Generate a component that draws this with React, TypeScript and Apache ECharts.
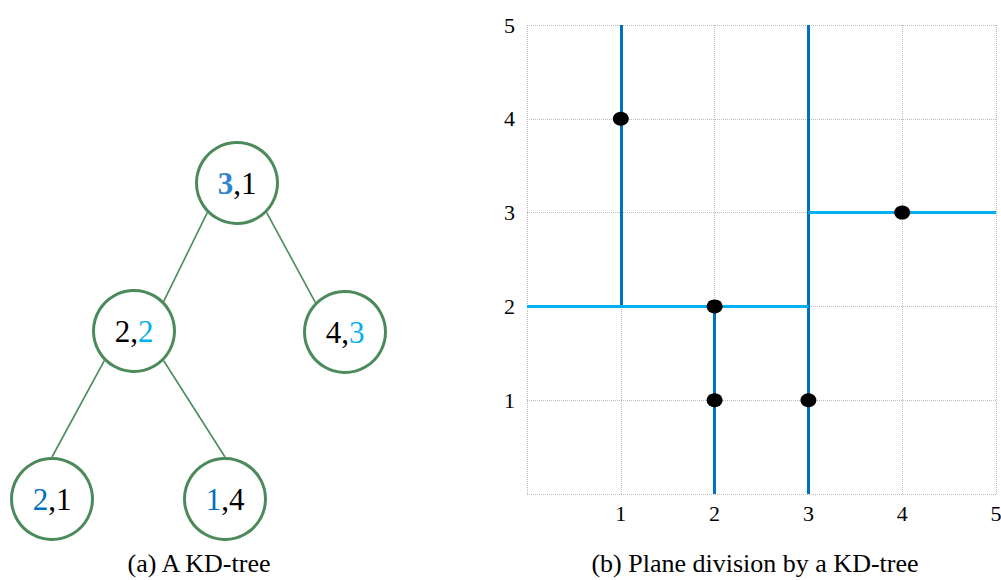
import React, { useEffect, useRef } from "react";
import * as echarts from "echarts";

// ---- Plane division (right panel) ----
const axisTicks = [0, 1, 2, 3, 4, 5];
const points: [number, number][] = [
  [1, 4],
  [2, 2],
  [2, 1],
  [3, 1],
  [4, 3],
];
// vertical split lines: x, from y, to y
const verticalSplitX = [1, 2, 3];
const verticalSplitFrom = [2, 0, 0];
const verticalSplitTo = [5, 2, 5];
// horizontal split lines: y, from x, to x
const horizontalSplitY = [2, 3];
const horizontalSplitFrom = [0, 3];
const horizontalSplitTo = [3, 5];

// ---- KD-tree (left panel) ----
const nodeValues: [number, number][] = [
  [3, 1],
  [2, 2],
  [4, 3],
  [2, 1],
  [1, 4],
];
const nodeSplitDim = [0, 1, 1, 0, 0];
const nodeDepth = [0, 1, 1, 2, 2];
// layout position of each node in tree-layout units
const nodeX = [11.85, 6.7, 17.25, 2.6, 11.25];
const nodeY = [9.15, 16.55, 16.6, 24.95, 24.95];
const edgeFrom = [0, 0, 1, 1];
const edgeTo = [1, 2, 3, 4];
// attachment angle (degrees, clockwise from +x, screen) on parent / child circle
const edgeFromAngle = [135, 45, 135, 45];
const edgeToAngle = [-45, -135, -90, -90];

const captions = ["(a) A KD-tree", "(b) Plane division by a KD-tree"];

const GREEN = "#4B8A5A";
const DARK_BLUE = "#0070C0";
const LIGHT_BLUE = "#00B0F0";
const SERIF = "Liberation Serif";

export default function App() {
  const ref = useRef<HTMLDivElement>(null);

  useEffect(() => {
    if (!ref.current) return;
    const chart = echarts.init(ref.current, undefined, { renderer: "svg" });

    const nodeRadiusUnits = 2.1;
    const edgeData = edgeFrom.map((f, i) => {
      const t = edgeTo[i];
      const a1 = (edgeFromAngle[i] * Math.PI) / 180;
      const a2 = (edgeToAngle[i] * Math.PI) / 180;
      return {
        coords: [
          [nodeX[f] + nodeRadiusUnits * Math.cos(a1), nodeY[f] + nodeRadiusUnits * Math.sin(a1)],
          [nodeX[t] + nodeRadiusUnits * Math.cos(a2), nodeY[t] + nodeRadiusUnits * Math.sin(a2)],
        ],
      };
    });

    const nodeData = nodeValues.map((v, i) => {
      const dim = nodeSplitDim[i];
      const style = nodeDepth[i] === 0 ? "r" : nodeDepth[i] === 1 ? "l" : "d";
      const a = dim === 0 ? `{${style}|${v[0]}}` : `{n|${v[0]}}`;
      const b = dim === 1 ? `{${style}|${v[1]}}` : `{n|${v[1]}}`;
      return { value: [nodeX[i], nodeY[i]], label: { formatter: `${a}{n|,}${b}` } };
    });

    const splitLineData = [
      ...verticalSplitX.map((x, i) => ({
        coords: [
          [x, verticalSplitFrom[i]],
          [x, verticalSplitTo[i]],
        ],
        lineStyle: { color: DARK_BLUE },
      })),
      ...horizontalSplitY.map((y, i) => ({
        coords: [
          [horizontalSplitFrom[i], y],
          [horizontalSplitTo[i], y],
        ],
        lineStyle: { color: LIGHT_BLUE },
      })),
    ];

    const axisCommon = {
      type: "value" as const,
      min: axisTicks[0],
      max: axisTicks[axisTicks.length - 1],
      interval: 1,
      axisLine: { show: false },
      axisTick: { show: false },
      splitLine: { show: true, lineStyle: { type: "dotted" as const, color: "#BBBBBB", width: 1 } },
    };

    chart.setOption({
      animation: false,
      backgroundColor: "#ffffff",
      grid: [
        { left: 527, right: 5, top: 25, bottom: 86, outerBoundsMode: "none", containLabel: false },
        { left: 0, top: 0, width: 400, height: 580, outerBoundsMode: "none" },
      ],
      xAxis: [
        {
          ...axisCommon,
          gridIndex: 0,
          axisLabel: {
            formatter: (v: number) => (v === 0 ? "" : String(v)),
            fontFamily: SERIF,
            fontSize: 22,
            color: "#000",
            margin: 8,
          },
        },
        { type: "value", gridIndex: 1, min: 0, max: 20, show: false },
      ],
      yAxis: [
        {
          ...axisCommon,
          gridIndex: 0,
          axisLabel: {
            formatter: (v: number) => (v === 0 ? "" : String(v)),
            fontFamily: SERIF,
            fontSize: 22,
            color: "#000",
            margin: 12,
          },
        },
        { type: "value", gridIndex: 1, min: 0, max: 29, inverse: true, show: false },
      ],
      series: [
        {
          type: "lines",
          coordinateSystem: "cartesian2d",
          xAxisIndex: 0,
          yAxisIndex: 0,
          polyline: false,
          lineStyle: { width: 3, opacity: 1 },
          data: splitLineData,
          z: 3,
        },
        {
          type: "scatter",
          xAxisIndex: 0,
          yAxisIndex: 0,
          symbol: "circle",
          symbolSize: [16, 14],
          itemStyle: { color: "#000", opacity: 1 },
          data: points,
          z: 5,
        },
        {
          type: "lines",
          coordinateSystem: "cartesian2d",
          xAxisIndex: 1,
          yAxisIndex: 1,
          lineStyle: { color: GREEN, width: 1.6, opacity: 1 },
          data: edgeData,
          z: 2,
        },
        {
          type: "scatter",
          xAxisIndex: 1,
          yAxisIndex: 1,
          symbol: "circle",
          symbolSize: 81,
          itemStyle: { color: "#fff", borderColor: GREEN, borderWidth: 3, opacity: 1 },
          label: {
            show: true,
            position: "inside",
            rich: {
              n: { fontFamily: SERIF, fontSize: 31, color: "#000" },
              r: { fontFamily: SERIF, fontSize: 31, color: "#2F85CE", fontWeight: "bold" },
              l: { fontFamily: SERIF, fontSize: 31, color: LIGHT_BLUE },
              d: { fontFamily: SERIF, fontSize: 31, color: DARK_BLUE },
            },
          },
          data: nodeData,
          z: 4,
        },
      ],
      graphic: [
        {
          type: "text",
          x: 199,
          y: 563,
          style: {
            text: captions[0],
            fontFamily: SERIF,
            fontSize: 26,
            fill: "#000",
            textAlign: "center",
            textVerticalAlign: "middle",
          },
        },
        {
          type: "text",
          x: 755,
          y: 563,
          style: {
            text: captions[1],
            fontFamily: SERIF,
            fontSize: 26,
            fill: "#000",
            textAlign: "center",
            textVerticalAlign: "middle",
          },
        },
      ],
    });

    return () => chart.dispose();
  }, []);

  return (
    <div
      ref={ref}
      style={{ position: "absolute", left: 0, top: 0, width: 1001, height: 580, background: "#fff" }}
    />
  );
}
